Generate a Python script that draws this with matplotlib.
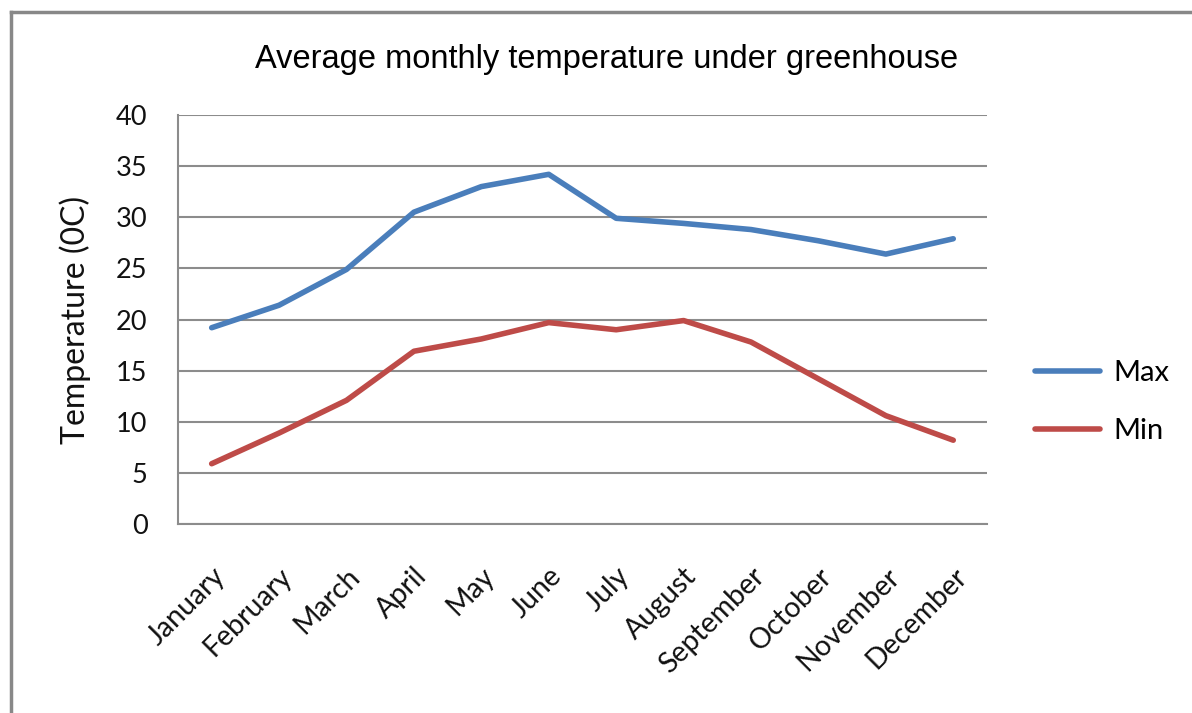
import matplotlib
matplotlib.use("Agg")
import matplotlib.pyplot as plt
from matplotlib.lines import Line2D

# data
months = ['January', 'February', 'March', 'April', 'May', 'June',
          'July', 'August', 'September', 'October', 'November', 'December']
temp_max = [19.2, 21.4, 24.9, 30.5, 33.0, 34.2, 29.9, 29.4, 28.8, 27.7, 26.4, 27.9]
temp_min = [5.9, 8.9, 12.1, 16.9, 18.1, 19.7, 19.0, 19.9, 17.8, 14.2, 10.6, 8.2]
y_ticks = [0, 5, 10, 15, 20, 25, 30, 35, 40]

plt.rcParams['font.family'] = ['Lato', 'DejaVu Sans']

fig = plt.figure(figsize=(11.92, 7.13), dpi=100)
ax = fig.add_axes([0.1493, 0.265, 0.6787, 0.5737])

x = range(len(months))
ax.plot(x, temp_max, color='#4A7EBB', lw=4, label='Max', solid_capstyle='round')
ax.plot(x, temp_min, color='#BE4B48', lw=4, label='Min', solid_capstyle='round')

ax.set_xlim(-0.5, len(months) - 0.5)
ax.set_ylim(0, 40)
ax.set_yticks(y_ticks)
ax.set_yticklabels([str(v) for v in y_ticks], fontsize=19.5, color='#111111')
ax.set_xticks(list(x))
ax.set_xticklabels(months, fontsize=20.5, rotation=45, ha='right', va='top',
                   rotation_mode='anchor', color='#111111')
ax.tick_params(axis='both', length=0)
ax.tick_params(axis='y', pad=22)
ax.tick_params(axis='x', pad=28)

ax.yaxis.grid(True, color='#8C8C8C', lw=1.5)
ax.set_axisbelow(True)
for side in ['top', 'right']:
    ax.spines[side].set_visible(False)
for side in ['left', 'bottom']:
    ax.spines[side].set_color('#8C8C8C')
    ax.spines[side].set_linewidth(1.5)

ax.set_ylabel('Temperature (0C)', fontsize=23, labelpad=18, color='#111111')
fig.text(0.509, 0.916, 'Average monthly temperature under greenhouse',
         ha='center', va='center', fontsize=23.5, family=['Liberation Sans'])

leg = ax.legend(loc='center left', bbox_to_anchor=(0.846, 0.436),
                bbox_transform=fig.transFigure, frameon=False, fontsize=21,
                handlelength=2.25, labelspacing=1.1, handletextpad=0.45)

# outer chart frame (only top and left edges are visible)
fig.add_artist(Line2D([0.0092, 0.0092], [0.0, 0.9825], transform=fig.transFigure,
                      color='#888888', lw=2.5))
fig.add_artist(Line2D([0.0092, 1.0], [0.9825, 0.9825], transform=fig.transFigure,
                      color='#888888', lw=2.5))

fig.savefig('out.png', dpi=100)
